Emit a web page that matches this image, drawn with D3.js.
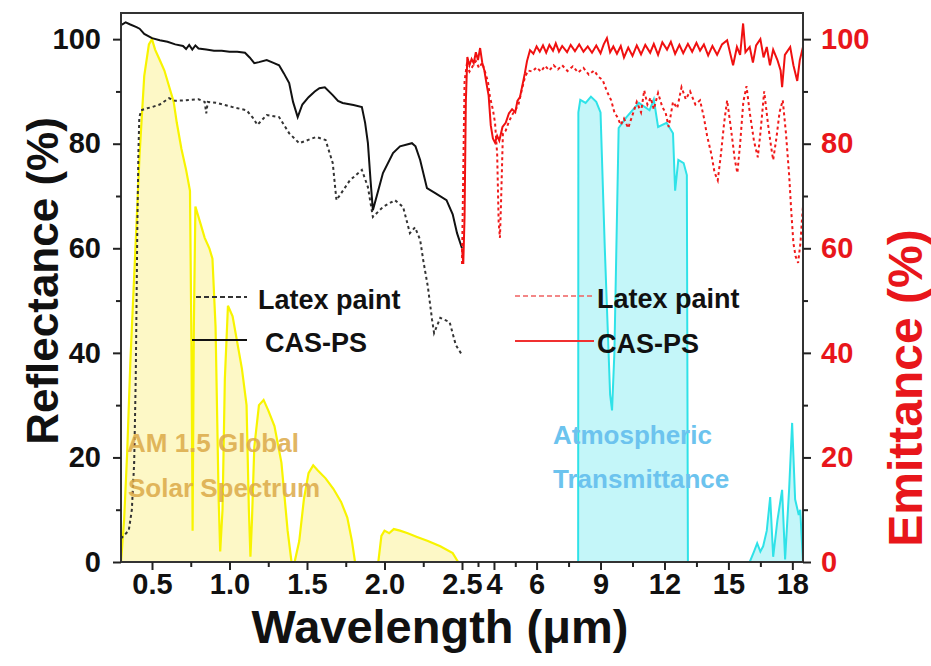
<!DOCTYPE html>
<html>
<head>
<meta charset="utf-8">
<script src="https://cdn.jsdelivr.net/npm/d3@7"></script>
<style>
  body { margin: 0; background: #fff; }
  text { font-family: "Liberation Sans", Arial, sans-serif; font-weight: bold; }
</style>
</head>
<body>
<div id="canvas"></div>
<script>
var width = 931
var height = 666

// wavelength (um), value (%)
var solarSpectrum = [[0.30,0],[0.32,8],[0.34,21],[0.36,38],[0.39,58],[0.42,78],[0.45,93],[0.48,99],[0.50,100],
  [0.52,98],[0.55,96],[0.58,94],[0.61,91],[0.64,88],[0.66,84],[0.69,79],[0.72,75],[0.745,71],[0.755,40],
  [0.762,6],[0.77,45],[0.78,68],[0.81,65],[0.84,62],[0.87,60],[0.89,58],[0.91,45],[0.93,12],[0.94,2],
  [0.955,10],[0.97,35],[0.99,49],[1.02,47],[1.05,42],[1.08,37],[1.11,30],[1.125,10],[1.135,1],[1.145,8],
  [1.16,22],[1.19,30],[1.22,31],[1.25,29],[1.29,26],[1.335,19],[1.375,6],[1.40,0],[1.42,0],[1.45,4],
  [1.48,12],[1.51,17],[1.54,18.5],[1.57,17.5],[1.62,16],[1.67,14],[1.72,11.5],[1.76,8.5],[1.79,4],[1.81,0],
  [1.96,0],[1.98,5],[2.00,6],[2.03,5.5],[2.06,6.3],[2.10,6],[2.15,5.5],[2.21,4.8],[2.28,4],[2.36,3],
  [2.44,1.7],[2.475,0],[2.5,0]]

var atmWindow = [[7.95,0],[7.96,86],[8.05,88.4],[8.3,87.8],[8.55,89],[8.8,88],[9.0,86],[9.2,60],[9.45,32],
  [9.54,29],[9.65,40],[9.85,83],[10.2,85],[10.8,87.8],[11.3,86.4],[11.5,88.5],[11.7,83.2],[12.1,84],
  [12.4,82],[12.5,71],[12.65,76.9],[12.9,76.3],[13.05,74],[13.1,0]]

var atmFar = [[16.0,0],[16.2,2],[16.35,3.6],[16.5,2],[16.63,3],[16.8,6],[16.96,12.4],[17.1,1],[17.3,8],
  [17.52,13.8],[17.66,0.5],[17.85,14],[17.99,26.6],[18.13,12],[18.3,9],[18.37,10],[18.5,0]]

var reflCAS = [[0.30,102.7],[0.33,103.2],[0.36,102.8],[0.40,102.3],[0.42,102.0],[0.45,101.0],[0.50,100.2],
  [0.55,99.8],[0.60,99.5],[0.65,99.0],[0.70,98.7],[0.72,98.1],[0.74,98.9],[0.76,98.0],[0.78,98.8],[0.80,98.2],
  [0.85,98.0],[0.90,97.8],[0.95,97.8],[1.00,97.6],[1.05,97.6],[1.10,97.4],[1.13,96.5],[1.16,95.4],
  [1.19,95.6],[1.24,96.0],[1.28,95.5],[1.32,95.0],[1.35,93.5],[1.385,91.6],[1.41,88],[1.44,85.1],
  [1.47,87.5],[1.51,88.9],[1.55,90.0],[1.58,90.6],[1.615,90.8],[1.666,89.3],[1.70,88.2],[1.73,87.8],
  [1.80,87.4],[1.854,87.0],[1.875,84],[1.893,80.1],[1.91,73],[1.925,67.3],[1.95,70],[1.99,74.4],
  [2.055,78.2],[2.10,79.5],[2.177,80.1],[2.20,79.5],[2.23,76.9],[2.274,71.5],[2.33,70.5],[2.40,69.2],
  [2.44,66.5],[2.468,62.9],[2.50,60.0]]

var reflLatex = [[0.30,4.5],[0.31,4.8],[0.35,6],[0.37,10],[0.385,19],[0.395,35],[0.405,63],[0.412,78],
  [0.418,85],[0.43,86.4],[0.47,86.8],[0.50,87],[0.55,87.5],[0.61,88.7],[0.65,88.2],[0.72,88.3],[0.80,88.5],
  [0.84,88],[0.85,85.8],[0.86,88],[0.92,87.8],[1.02,87],[1.11,86.4],[1.15,85],[1.18,83.6],[1.24,85.5],
  [1.32,85.1],[1.385,82],[1.45,80.1],[1.56,81.3],[1.62,80.7],[1.666,76.3],[1.69,69.2],[1.777,73],
  [1.854,75],[1.893,71.7],[1.925,66],[1.99,67.9],[2.067,69.2],[2.12,67.9],[2.164,62.9],[2.197,64],
  [2.23,61.6],[2.25,57.7],[2.28,52.6],[2.307,46.3],[2.32,43.8],[2.36,46.7],[2.42,45.9],[2.46,41.5],[2.50,39.6]]

var emitCAS = [[2.50,60],[2.56,57],[2.62,66],[2.68,88],[2.75,96.6],[2.85,95.0],[2.95,96.2],[3.05,95.4],
  [3.15,97.5],[3.25,96.0],[3.35,98.3],[3.45,95.5],[3.55,94.0],[3.65,91.5],[3.75,89.2],[3.85,83.5],
  [3.95,81.0],[4.05,80.2],[4.15,81.5],[4.25,80.6],[4.40,83.2],[4.55,84.0],[4.70,85.8],[4.85,86.6],
  [5.00,86.0],[5.10,88.2],[5.22,88.9],[5.35,91.5],[5.45,93.5],[5.55,95.8],[5.69,97.9],[5.85,97.2],
  [6.0,98.6],[6.15,97.6],[6.3,98.8],[6.45,97.4],[6.6,98.9],[6.77,97.8],[6.9,99.2],[7.05,97.6],[7.2,98.7],
  [7.43,97.5],[7.6,98.9],[7.8,97.7],[8.0,99.0],[8.2,97.6],[8.4,98.6],[8.6,97.4],[8.8,98.8],[9.0,97.3],
  [9.15,99.0],[9.3,100.2],[9.45,97.5],[9.6,98.6],[9.77,97.2],[9.95,98.7],[10.1,96.5],[10.3,98.4],
  [10.5,96.8],[10.7,98.8],[10.9,97.1],[11.1,98.9],[11.33,97.4],[11.5,99.1],[11.7,97.0],[11.9,99.4],
  [12.12,98.0],[12.3,99.5],[12.5,97.2],[12.7,98.9],[12.88,97.3],[13.1,99.1],[13.3,97.6],[13.5,99.3],
  [13.67,97.8],[13.85,99.0],[14.05,96.9],[14.25,98.7],[14.47,97.0],[14.7,99.0],[14.94,99.8],[15.1,97.0],
  [15.22,95.0],[15.4,98.5],[15.55,97.0],[15.69,103.0],[15.8,97.5],[16.0,98.5],[16.15,95.5],[16.3,98.8],
  [16.5,100.0],[16.65,96.5],[16.8,98.5],[16.95,95.0],[17.1,98.0],[17.3,96.0],[17.45,94.0],[17.52,90.8],
  [17.65,97.0],[17.9,98.5],[18.05,95.0],[18.23,92.0],[18.35,96.0],[18.5,98.5]]

var emitLatex = [[2.50,57],[2.55,72],[2.62,92],[2.72,95],[2.85,93.8],[3.0,94.8],[3.15,95.8],[3.3,94.5],
  [3.45,95.5],[3.6,93.5],[3.72,91.8],[3.81,89.0],[3.95,86.5],[4.05,84.0],[4.15,78],[4.22,65],[4.28,62],
  [4.34,70],[4.42,82],[4.55,82.5],[4.7,84.2],[4.85,85.5],[5.0,86.4],[5.15,87.5],[5.3,90.2],[5.45,92.7],
  [5.6,94.0],[5.8,93.8],[6.0,94.6],[6.2,93.8],[6.4,94.9],[6.6,94.0],[6.8,95.0],[7.0,94.2],[7.2,95.0],
  [7.45,93.9],[7.7,94.8],[7.95,93.6],[8.2,94.5],[8.45,93.2],[8.7,94.0],[8.9,92.8],[9.1,92.2],[9.3,90.0],
  [9.5,88.3],[9.65,86.0],[9.8,85.0],[9.95,83.6],[10.1,84.8],[10.3,83.0],[10.5,85.5],[10.7,88.0],
  [10.9,86.0],[11.05,90.2],[11.2,87.5],[11.35,88.8],[11.5,86.6],[11.7,89.7],[11.9,87.0],[12.05,86.0],
  [12.2,83.2],[12.4,88.0],[12.6,86.8],[12.8,90.8],[13.0,88.5],[13.2,90.0],[13.45,87.5],[13.67,88.3],
  [13.85,85.0],[14.0,81.5],[14.2,78.0],[14.35,74.5],[14.5,73.0],[14.65,78.0],[14.8,84.0],[14.94,88.3],
  [15.1,83.5],[15.3,77.0],[15.42,74.4],[15.55,80.0],[15.7,88.0],[15.85,91.0],[16.0,86.0],[16.2,80.5],
  [16.38,77.4],[16.5,82.0],[16.68,90.0],[16.85,84.0],[17.0,79.5],[17.1,76.9],[17.25,81.0],[17.4,86.0],
  [17.55,88.3],[17.7,82.0],[17.85,74.0],[17.95,67.0],[18.05,61.0],[18.15,58.5],[18.27,57.2],[18.38,61.0],
  [18.46,66.0],[18.5,68.0]]

var xMajorTicks = [0.5, 1.0, 1.5, 2.0, 2.5, 4, 6, 9, 12, 15, 18]
var xMinorTicks = [0.75, 1.25, 1.75, 2.25, 3.25, 5, 7.5, 10.5, 13.5, 16.5]
var yMajorTicks = [0, 20, 40, 60, 80, 100]
var yMinorTicks = [10, 30, 50, 70, 90]

var legendLeft = ["Latex paint", "CAS-PS"]
var legendRight = ["Latex paint", "CAS-PS"]

var plotLeft = 121, plotRight = 803, plotTop = 13, plotBottom = 562

// broken axis: 0.3-2.5 um and 2.5-18.5 um share the same width
var x = d3.scaleLinear().domain([0.3, 2.5, 18.5]).range([plotLeft, 462, plotRight])
var y = d3.scaleLinear().domain([0, 105]).range([plotBottom, plotTop])

var svg = d3.select("#canvas").append("svg")
    .attr("width", width)
    .attr("height", height)

svg.append("defs").append("clipPath").attr("id", "plotclip")
    .append("rect").attr("x", plotLeft).attr("y", plotTop)
    .attr("width", plotRight - plotLeft).attr("height", plotBottom - plotTop)

var plot = svg.append("g").attr("clip-path", "url(#plotclip)")

var area = d3.area().x(d => x(d[0])).y0(y(0)).y1(d => y(d[1]))
var line = d3.line().x(d => x(d[0])).y(d => y(d[1]))

// filled spectra
plot.append("path").datum(solarSpectrum).attr("d", area).attr("fill", "#fdf8c6")
plot.append("path").datum(atmWindow).attr("d", area).attr("fill", "#c4f6f9")
plot.append("path").datum(atmFar).attr("d", area).attr("fill", "#c4f6f9")
plot.append("path").datum(solarSpectrum).attr("d", line).attr("fill", "none")
    .attr("stroke", "#f8f400").attr("stroke-width", 2.2)
plot.selectAll(".atm").data([atmWindow, atmFar]).enter().append("path")
    .attr("d", line).attr("fill", "none").attr("stroke", "#2fe2e8").attr("stroke-width", 2)

// annotations
var notes = svg.append("g").style("font-size", "26px")
notes.append("text").attr("x", 127).attr("y", 452).attr("fill", "#dcaa48").attr("opacity", 0.85).text("AM 1.5 Global")
notes.append("text").attr("x", 128).attr("y", 497).attr("fill", "#dcaa48").attr("opacity", 0.85).text("Solar Spectrum")
notes.append("text").attr("x", 553).attr("y", 444).attr("fill", "#6cc3ee").text("Atmospheric")
notes.append("text").attr("x", 553).attr("y", 488).attr("fill", "#6cc3ee").text("Transmittance")

// measured curves
plot.append("path").datum(reflLatex).attr("d", line).attr("fill", "none")
    .attr("stroke", "#333").attr("stroke-width", 2).attr("stroke-dasharray", "3,3")
plot.append("path").datum(reflCAS).attr("d", line).attr("fill", "none")
    .attr("stroke", "#111").attr("stroke-width", 2)
plot.append("path").datum(emitLatex).attr("d", line).attr("fill", "none")
    .attr("stroke", "#f01a1a").attr("stroke-width", 2).attr("stroke-dasharray", "3,3")
plot.append("path").datum(emitCAS).attr("d", line).attr("fill", "none")
    .attr("stroke", "#f01010").attr("stroke-width", 2)

// frame
svg.append("rect").attr("x", plotLeft).attr("y", plotTop)
    .attr("width", plotRight - plotLeft).attr("height", plotBottom - plotTop)
    .attr("fill", "none").attr("stroke", "#333").attr("stroke-width", 2)

// axes
function styleAxis(g, color) {
    g.attr("font-size", 29).attr("font-family", null)
    g.select(".domain").remove()
    g.selectAll("line").attr("stroke", "#222").attr("stroke-width", 2)
    g.selectAll("text").style("font-size", "29px").attr("fill", color)
}

svg.append("g").attr("transform", `translate(0,${plotBottom})`)
    .call(d3.axisBottom(x).tickValues(xMajorTicks).tickSize(8).tickPadding(3)
        .tickFormat(d => d <= 2.5 ? d.toFixed(1) : d3.format("d")(d)))
    .call(g => styleAxis(g, "#111"))
svg.append("g").attr("transform", `translate(0,${plotBottom})`)
    .call(d3.axisBottom(x).tickValues(xMinorTicks).tickSize(5).tickFormat(""))
    .call(g => styleAxis(g, "#111"))

svg.append("g").attr("transform", `translate(${plotLeft},0)`)
    .call(d3.axisLeft(y).tickValues(yMajorTicks).tickSize(8).tickPadding(12))
    .call(g => styleAxis(g, "#111"))
svg.append("g").attr("transform", `translate(${plotLeft},0)`)
    .call(d3.axisLeft(y).tickValues(yMinorTicks).tickSize(5).tickFormat(""))
    .call(g => styleAxis(g, "#111"))

svg.append("g").attr("transform", `translate(${plotRight},0)`)
    .call(d3.axisRight(y).tickValues(yMajorTicks).tickSize(8).tickPadding(10))
    .call(g => styleAxis(g, "#e8161b"))
svg.append("g").attr("transform", `translate(${plotRight},0)`)
    .call(d3.axisRight(y).tickValues(yMinorTicks).tickSize(5).tickFormat(""))
    .call(g => styleAxis(g, "#e8161b"))

// axis titles
svg.append("text").attr("transform", "translate(58,281) rotate(-90)")
    .attr("text-anchor", "middle").style("font-size", "44px").attr("fill", "#111").text("Reflectance (%)")
svg.append("text").attr("transform", "translate(922,388) rotate(-90)")
    .attr("text-anchor", "middle").style("font-size", "48px").attr("fill", "#e8161b").text("Emittance (%)")
svg.append("text").attr("x", 440).attr("y", 643)
    .attr("text-anchor", "middle").style("font-size", "47px").attr("fill", "#111").text("Wavelength (μm)")

// legends
var legL = svg.append("g").selectAll("g").data(legendLeft).enter().append("g")
    .attr("transform", (d, i) => `translate(0,${i * 43})`)
legL.append("line").attr("x1", (d, i) => i ? 192 : 196).attr("x2", 247).attr("y1", 297).attr("y2", 297)
    .attr("stroke", (d, i) => i ? "#111" : "#333").attr("stroke-width", 2)
    .attr("stroke-dasharray", (d, i) => i ? null : "5,3")
legL.append("text").attr("x", (d, i) => i ? 265 : 258).attr("y", 309).style("font-size", "27px")
    .attr("fill", "#111").text(d => d)

var legR = svg.append("g").selectAll("g").data(legendRight).enter().append("g")
    .attr("transform", (d, i) => `translate(0,${i * 45})`)
legR.append("line").attr("x1", 515).attr("x2", 594).attr("y1", 296).attr("y2", 296)
    .attr("stroke", (d, i) => i ? "#f03030" : "#f06060").attr("stroke-width", (d, i) => i ? 2 : 1.6)
    .attr("stroke-dasharray", (d, i) => i ? null : "5,3")
legR.append("text").attr("x", 597).attr("y", 308).style("font-size", "27px")
    .attr("fill", "#111").text(d => d)
</script>
</body>
</html>
